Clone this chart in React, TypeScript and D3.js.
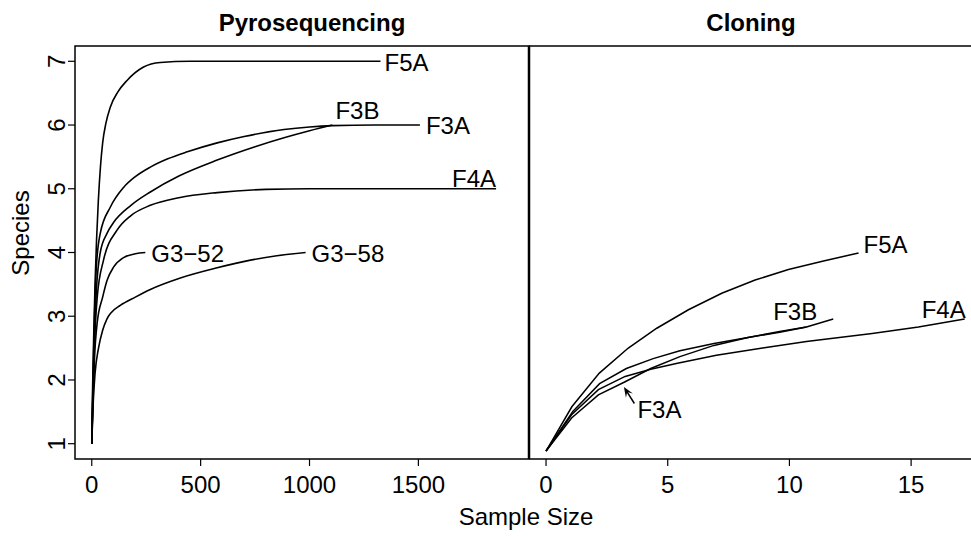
import React, { useEffect, useRef } from 'react';
import * as d3 from 'd3';

// Pyrosequencing rarefaction curves: [sample size, species]
const pyroF5A: [number, number][] = [[0, 1], [4, 1.9], [9, 2.7], [15, 3.5], [22, 4.2], [30, 4.8], [40, 5.35], [50, 5.72], [65, 6.03], [85, 6.28], [120, 6.52], [162, 6.7], [238, 6.91], [315, 6.98], [450, 7], [1326, 7]];
const pyroF3A: [number, number][] = [[0, 1], [5, 1.9], [11, 2.8], [21, 3.77], [39, 4.3], [85, 4.71], [146, 5.02], [200, 5.19], [269, 5.34], [349, 5.47], [439, 5.58], [576, 5.72], [700, 5.82], [883, 5.93], [1000, 5.97], [1105, 5.99], [1300, 6], [1507, 6]];
const pyroF3B: [number, number][] = [[0, 1], [5, 1.8], [12, 2.7], [22, 3.45], [39, 4.0], [70, 4.3], [100, 4.47], [180, 4.74], [269, 4.95], [400, 5.2], [576, 5.45], [750, 5.66], [883, 5.8], [1000, 5.91], [1105, 6]];
const pyroF4A: [number, number][] = [[0, 1], [5, 1.7], [12, 2.5], [25, 3.3], [54, 3.88], [116, 4.35], [180, 4.58], [269, 4.74], [400, 4.86], [576, 4.94], [800, 4.99], [1000, 5], [1857, 5]];
const pyroG352: [number, number][] = [[0, 1], [5, 1.6], [12, 2.3], [25, 2.9], [50, 3.3], [70, 3.56], [100, 3.77], [146, 3.92], [200, 3.98], [246, 4]];
const pyroG358: [number, number][] = [[0, 1], [6, 1.6], [15, 2.1], [31, 2.5], [50, 2.78], [70, 2.96], [90, 3.06], [131, 3.17], [200, 3.3], [269, 3.42], [407, 3.6], [576, 3.76], [729, 3.88], [850, 3.95], [982, 4]];

// Clone library rarefaction curves
const cloneF5A: [number, number][] = [[0, 1], [1.06, 1.67], [2.19, 2.18], [3.38, 2.56], [4.55, 2.86], [5.85, 3.14], [7.22, 3.39], [8.59, 3.59], [9.96, 3.75], [11.4, 3.88], [12.84, 4]];
const cloneF3B: [number, number][] = [[0, 1], [1.1, 1.6], [2.2, 2.02], [3.3, 2.25], [4.4, 2.4], [5.5, 2.52], [6.9, 2.63], [8.3, 2.72], [9.6, 2.8], [10.7, 2.88], [11.8, 3]];
const cloneF3A: [number, number][] = [[0, 1], [1.05, 1.5], [2.15, 1.85], [3.25, 2.05], [4.3, 2.25], [5.5, 2.43], [6.9, 2.6], [8.3, 2.72], [9.6, 2.81], [10.7, 2.88]];
const cloneF4A: [number, number][] = [[0, 1], [1.05, 1.55], [2.15, 1.93], [3.25, 2.13], [4.3, 2.24], [5.4, 2.33], [7.0, 2.45], [8.9, 2.56], [10.7, 2.66], [13.4, 2.78], [15.3, 2.88], [17.2, 3]];

const pyroNames = ['F5A', 'F3A', 'F3B', 'F4A', 'G3\u221252', 'G3\u221258'];
const pyroData = [pyroF5A, pyroF3A, pyroF3B, pyroF4A, pyroG352, pyroG358];
const cloneNames = ['F5A', 'F3B', 'F3A', 'F4A'];
const cloneData = [cloneF5A, cloneF3B, cloneF3A, cloneF4A];

const pyroTicks = [0, 500, 1000, 1500];
const cloneTicks = [0, 5, 10, 15];
const speciesTicks = [1, 2, 3, 4, 5, 6, 7];

const W = 971;
const H = 536;
const FONT = '"Liberation Sans", Arial, Helvetica, sans-serif';

const App = () => {
    const svgRef = useRef<SVGSVGElement>(null);

    useEffect(() => {
        document.body.style.margin = '0';
        const svg = d3.select(svgRef.current);
        svg.selectAll('*').remove();

        const top = 46, bottom = 459;
        const leftL = 75, leftR = 529;
        const rightL = 529, rightR = 989;

        const xL = d3.scaleLinear().domain([-77, 2008]).range([leftL, leftR]);
        const yL = d3.scaleLinear().domain([0.76, 7.24]).range([bottom, top]);
        const xR = d3.scaleLinear().domain([-0.7, 18.2]).range([rightL, rightR]);
        const yR = d3.scaleLinear().domain([0.879, 7.136]).range([bottom, top]);

        const g = svg.append('g').style('font-family', FONT).style('font-size', '24px');

        // Titles
        g.append('text').attr('x', 312).attr('y', 31).attr('text-anchor', 'middle')
            .style('font-weight', 'bold').text('Pyrosequencing');
        g.append('text').attr('x', 751).attr('y', 31).attr('text-anchor', 'middle')
            .style('font-weight', 'bold').text('Cloning');

        // Frames
        g.append('rect').attr('x', leftL).attr('y', top)
            .attr('width', leftR - leftL).attr('height', bottom - top)
            .attr('fill', 'none').attr('stroke', '#000').attr('stroke-width', 1.5);
        g.append('line').attr('x1', rightL).attr('x2', W).attr('y1', top).attr('y2', top)
            .attr('stroke', '#000').attr('stroke-width', 1.5);
        g.append('line').attr('x1', rightL).attr('x2', W).attr('y1', bottom).attr('y2', bottom)
            .attr('stroke', '#000').attr('stroke-width', 1.5);
        g.append('line').attr('x1', rightL).attr('x2', rightL).attr('y1', top).attr('y2', bottom)
            .attr('stroke', '#000').attr('stroke-width', 2.5);

        // X axes
        const xAxis = (scale: d3.ScaleLinear<number, number>, ticks: number[]) => {
            const ax = g.append('g');
            ax.selectAll('line').data(ticks).enter().append('line')
                .attr('x1', d => scale(d)).attr('x2', d => scale(d))
                .attr('y1', bottom).attr('y2', bottom + 7)
                .attr('stroke', '#000').attr('stroke-width', 1.2);
            ax.selectAll('text').data(ticks).enter().append('text')
                .attr('x', d => scale(d)).attr('y', 493)
                .attr('text-anchor', 'middle').text(d => d);
        };
        xAxis(xL, pyroTicks);
        xAxis(xR, cloneTicks);

        // Y axis (left panel only)
        const yAx = g.append('g');
        yAx.selectAll('line').data(speciesTicks).enter().append('line')
            .attr('x1', leftL).attr('x2', leftL - 7)
            .attr('y1', d => yL(d)).attr('y2', d => yL(d))
            .attr('stroke', '#000').attr('stroke-width', 1.2);
        yAx.selectAll('text').data(speciesTicks).enter().append('text')
            .attr('transform', d => `translate(65, ${yL(d)}) rotate(-90)`)
            .attr('text-anchor', 'middle').text(d => d);

        // Axis titles
        g.append('text').attr('x', 526).attr('y', 525).attr('text-anchor', 'middle').text('Sample Size');
        g.append('text').attr('transform', 'translate(29, 233) rotate(-90)')
            .attr('text-anchor', 'middle').text('Species');

        // Curves
        const lineL = d3.line<[number, number]>()
            .x(d => xL(d[0])).y(d => yL(d[1])).curve(d3.curveMonotoneX);
        const lineR = d3.line<[number, number]>()
            .x(d => xR(d[0])).y(d => yR(d[1]));

        g.append('g').selectAll('path').data(pyroData).enter().append('path')
            .attr('d', d => lineL(d))
            .attr('fill', 'none').attr('stroke', '#000').attr('stroke-width', 1.6);
        g.append('g').selectAll('path').data(cloneData).enter().append('path')
            .attr('d', d => lineR(d))
            .attr('fill', 'none').attr('stroke', '#000').attr('stroke-width', 1.5);

        // Curve labels, placed at each curve's end point
        const pyroLabel: Record<string, { anchor: string; dx: number; dy: number }> = {
            'F5A': { anchor: 'start', dx: 4, dy: 10 },
            'F3A': { anchor: 'start', dx: 6, dy: 9 },
            'F3B': { anchor: 'start', dx: 3, dy: -6 },
            'F4A': { anchor: 'end', dx: 0, dy: -2 },
            'G3\u221252': { anchor: 'start', dx: 6, dy: 9 },
            'G3\u221258': { anchor: 'start', dx: 6, dy: 9 },
        };
        pyroNames.forEach((name, i) => {
            const end = pyroData[i][pyroData[i].length - 1];
            const p = pyroLabel[name];
            g.append('text')
                .attr('x', xL(end[0]) + p.dx).attr('y', yL(end[1]) + p.dy)
                .attr('text-anchor', p.anchor).text(name);
        });

        const cloneLabel: Record<string, { anchor: string; dx: number; dy: number }> = {
            'F5A': { anchor: 'start', dx: 5, dy: 0 },
            'F3B': { anchor: 'end', dx: -16, dy: 1 },
            'F4A': { anchor: 'end', dx: 1, dy: -1 },
        };
        cloneNames.forEach((name, i) => {
            const p = cloneLabel[name];
            if (!p) return;
            const end = cloneData[i][cloneData[i].length - 1];
            g.append('text')
                .attr('x', xR(end[0]) + p.dx).attr('y', yR(end[1]) + p.dy)
                .attr('text-anchor', p.anchor).text(name);
        });

        // F3A arrow annotation in the cloning panel
        const tail: [number, number] = [3.63, 1.72];
        const tip: [number, number] = [3.2, 1.97];
        const x1 = xR(tail[0]), y1 = yR(tail[1]), x2 = xR(tip[0]), y2 = yR(tip[1]);
        const ang = Math.atan2(y2 - y1, x2 - x1);
        const ah = 11, aw = 0.38;
        g.append('line').attr('x1', x1).attr('y1', y1).attr('x2', x2 - Math.cos(ang) * 5).attr('y2', y2 - Math.sin(ang) * 5)
            .attr('stroke', '#000').attr('stroke-width', 1.5);
        g.append('path')
            .attr('d', `M${x2},${y2}L${x2 - ah * Math.cos(ang - aw)},${y2 - ah * Math.sin(ang - aw)}L${x2 - ah * 0.55 * Math.cos(ang)},${y2 - ah * 0.55 * Math.sin(ang)}L${x2 - ah * Math.cos(ang + aw)},${y2 - ah * Math.sin(ang + aw)}Z`)
            .attr('fill', '#000');
        g.append('text').attr('x', xR(tail[0]) + 3).attr('y', yR(tail[1]) + 15).text('F3A');
    }, []);

    return (
        <svg ref={svgRef} width={W} height={H} style={{ display: 'block', background: '#fff' }}></svg>
    );
};

export default App;
